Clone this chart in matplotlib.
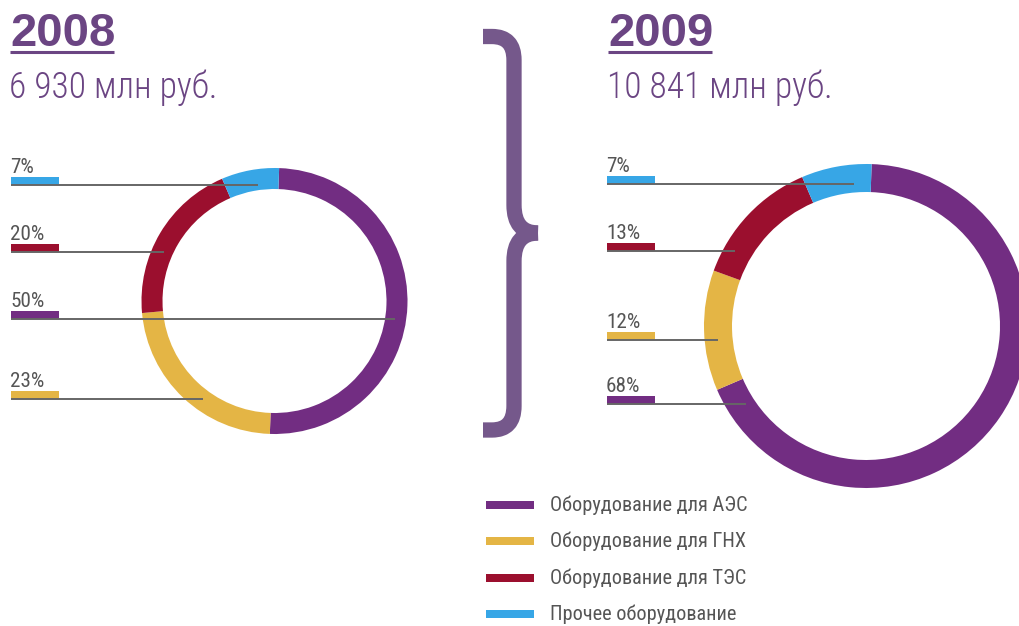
import matplotlib
matplotlib.use('Agg')
import matplotlib.pyplot as plt
from matplotlib import font_manager
from matplotlib.path import Path
from matplotlib.patches import PathPatch

# data
categories = ['Оборудование для АЭС', 'Оборудование для ГНХ',
              'Оборудование для ТЭС', 'Прочее оборудование']
colors = ['#722d82', '#e4b545', '#9b0f2e', '#37a6e6']
years = ['2008', '2009']
totals = ['6 930 млн руб.', '10 841 млн руб.']
shares_2008 = [50, 23, 20, 7]
shares_2009 = [68, 12, 13, 7]

# order of the percent labels, top to bottom
label_order_2008 = [3, 2, 0, 1]
label_order_2009 = [3, 2, 1, 0]

W, H = 1020, 626
title_color = '#6b4583'
text_gray = '#555555'

# the original uses a condensed grotesque, take the first one installed
installed = {f.name for f in font_manager.fontManager.ttflist}
narrow = 'Liberation Sans'
for name in ['Roboto Condensed', 'PT Sans Narrow', 'Fira Sans Condensed',
             'Liberation Sans Narrow', 'IBM Plex Sans Condensed',
             'Archivo Narrow', 'Open Sans Condensed']:
    if name in installed:
        narrow = name
        break
scale = 0.86 if narrow == 'Liberation Sans' else 1.0
narrow_family = [narrow, 'DejaVu Sans']

fig = plt.figure(figsize=(W / 100, H / 100), dpi=100)
ax = fig.add_axes([0, 0, 1, 1])


def draw_donut(shares, cx, cy, r, width):
    # y axis is inverted, so counterclock=True looks clockwise on screen
    ax.pie(shares, colors=colors, center=(cx, cy), radius=r,
           startangle=-88, counterclock=True,
           wedgeprops=dict(width=width, linewidth=0))


def draw_labels(shares, order, x0, bar_tops, line_ends):
    for idx, top, x_end in zip(order, bar_tops, line_ends):
        ax.text(x0 - 1, top - 4, '{}%'.format(shares[idx]),
                fontsize=15.2 * scale, family=narrow_family,
                color=text_gray, va='baseline', ha='left')
        ax.fill_between([x0, x0 + 48], top, top + 8, color=colors[idx],
                        linewidth=0)
        ax.plot([x0, x_end], [top + 8, top + 8], color='#666666', lw=1.4,
                solid_capstyle='butt')


def draw_header(year, total, x0, underline_end):
    ax.text(x0, 46.5, year, fontsize=34, fontweight='bold',
            family=['Liberation Sans', 'DejaVu Sans'], color=title_color,
            va='baseline', ha='left')
    ax.plot([x0, underline_end], [51.5, 51.5], color=title_color, lw=2.2,
            solid_capstyle='butt')
    ax.text(x0 - 1, 98, total, fontsize=25.6 * scale, fontweight='light',
            family=narrow_family, color=title_color,
            va='baseline', ha='left')


draw_donut(shares_2008, 274.5, 301, 133, 21)
draw_donut(shares_2009, 866, 326, 162, 28)

draw_labels(shares_2008, label_order_2008, 11, [177, 244, 311, 391],
            [258, 164, 395, 203])
draw_labels(shares_2009, label_order_2009, 607, [176, 243, 332, 396],
            [854, 735, 718, 746])

draw_header(years[0], totals[0], 10, 114)
draw_header(years[1], totals[1], 608, 712)

# curly brace between the two years
brace_color = '#75588b'
upper = Path([(483, 36.5), (492, 36.5), (514, 36.5), (514, 60),
              (514, 205), (514, 233), (538, 233)],
             [Path.MOVETO, Path.LINETO, Path.CURVE3, Path.CURVE3,
              Path.LINETO, Path.CURVE3, Path.CURVE3])
lower = Path([(538, 233), (514, 233), (514, 261), (514, 406),
              (514, 430), (492, 430), (483, 430)],
             [Path.MOVETO, Path.CURVE3, Path.CURVE3, Path.LINETO,
              Path.CURVE3, Path.CURVE3, Path.LINETO])
for p in (upper, lower):
    ax.add_patch(PathPatch(p, facecolor='none', edgecolor=brace_color,
                           lw=11, capstyle='butt', joinstyle='round'))

# legend
legend_rows = [505, 541, 578, 614]
for name, color, y in zip(categories, colors, legend_rows):
    ax.fill_between([486, 534], y - 4, y + 4, color=color, linewidth=0)
    ax.text(550, y, name, fontsize=14.6 * scale, family=narrow_family,
            color=text_gray, va='center', ha='left')

ax.set_xlim(0, W)
ax.set_ylim(H, 0)
ax.set_aspect('auto')
ax.axis('off')

fig.savefig('out.png', dpi=100)
